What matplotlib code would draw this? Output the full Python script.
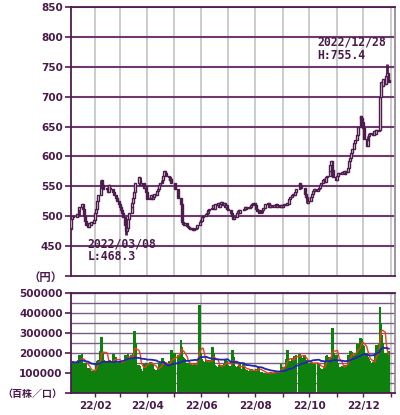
import numpy as np
import pandas as pd
import matplotlib
matplotlib.use("Agg")
import matplotlib.pyplot as plt
from matplotlib.ticker import FixedLocator

# ---------------- data ----------------
holidays = ['2022-01-10', '2022-02-11', '2022-02-23', '2022-03-21', '2022-04-29',
            '2022-05-03', '2022-05-04', '2022-05-05', '2022-07-18', '2022-08-11',
            '2022-09-19', '2022-09-23', '2022-10-10', '2022-11-03', '2022-11-23']

close_jan = [480, 495, 500, 498, 503, 500, 510, 515, 520, 512, 500, 492, 485, 482, 488, 485, 490, 488, 493]
close_feb = [505, 512, 525, 535, 548, 560, 552, 545, 548, 540, 552, 548, 545, 540, 536, 530, 525, 520]
close_mar = [515, 510, 505, 498, 485, 475, 480, 495, 505, 515, 522, 530, 540, 555, 565, 560, 552, 555, 548, 550, 540, 535]
close_apr = [528, 530, 535, 528, 532, 538, 535, 542, 545, 552, 556, 560, 568, 575, 572, 568, 565, 560, 562, 555]
close_may = [545, 530, 520, 490, 487, 485, 488, 484, 482, 480, 478, 481, 477, 479, 478, 480, 485, 490, 494]
close_jun = [492, 498, 500, 503, 505, 508, 510, 512, 514, 518, 512, 520, 518, 522, 516, 520, 524, 518, 522, 515, 518, 512]
close_jul = [510, 506, 505, 500, 495, 498, 505, 508, 510, 506, 510, 512, 515, 512, 516, 513, 515, 518, 520, 522]
close_aug = [518, 512, 508, 510, 506, 508, 510, 514, 520, 522, 518, 516, 518, 515, 518, 517, 520, 516, 518, 515, 518, 516]
close_sep = [518, 520, 518, 522, 520, 528, 532, 535, 538, 535, 540, 545, 555, 552, 548, 538, 532, 528, 522, 525]
close_oct = [532, 538, 542, 545, 543, 546, 548, 552, 555, 560, 562, 558, 565, 568, 575, 585, 592, 578, 565, 560]
close_nov = [568, 572, 570, 574, 572, 575, 571, 574, 580, 592, 598, 605, 612, 622, 628, 636, 650, 668, 665, 658]
close_dec = [648, 630, 618, 628, 635, 638, 640, 636, 642, 638, 645, 642, 645, 700, 725, 718, 730, 722, 735, 740, 728, 725]
first_open = 478

vol_jan = [155, 150, 160, 148, 150, 158, 165, 190, 195, 150, 145, 152, 148, 125, 120, 112, 108, 110, 115]
vol_feb = [112, 150, 160, 165, 210, 280, 200, 165, 155, 160, 150, 165, 155, 150, 195, 180, 150, 160]
vol_mar = [155, 150, 145, 160, 190, 185, 160, 195, 175, 190, 170, 200, 310, 250, 140, 135, 120, 110, 130, 145, 140, 150]
vol_apr = [150, 155, 145, 150, 140, 120, 115, 110, 125, 130, 150, 175, 160, 140, 135, 145, 140, 160, 150, 215]
vol_may = [200, 190, 265, 230, 180, 175, 170, 150, 145, 140, 150, 145, 140, 150, 145, 130, 150, 440, 200]
vol_jun = [170, 160, 150, 155, 165, 160, 150, 165, 160, 230, 200, 140, 135, 130, 140, 135, 130, 138, 145, 170, 160, 140]
vol_jul = [140, 135, 130, 215, 180, 135, 130, 125, 135, 145, 120, 145, 118, 112, 115, 110, 115, 112, 118, 110]
vol_aug = [112, 118, 110, 125, 130, 105, 100, 98, 102, 95, 100, 98, 105, 100, 102, 98, 105, 110, 100, 108, 145, 120]
vol_sep = [120, 130, 170, 215, 160, 150, 160, 175, 170, 185, 180, 190, 195, 185, 175, 190, 160, 165, 150, 145]
vol_oct = [150, 155, 145, 150, 148, 152, 140, 125, 120, 118, 130, 160, 185, 190, 180, 175, 160, 325, 200, 190]
vol_nov = [190, 150, 130, 125, 135, 128, 132, 140, 190, 180, 165, 210, 205, 190, 200, 220, 245, 275, 270, 240]
vol_dec = [235, 220, 200, 180, 170, 160, 150, 145, 155, 165, 200, 240, 250, 430, 350, 290, 250, 200, 185, 180, 190, 210]

price_ticks = [850, 800, 750, 700, 650, 600, 550, 500, 450]
vol_ticks = [500000, 400000, 300000, 200000, 100000]
month_labels = ['22/02', '22/04', '22/06', '22/08', '22/10', '22/12']
high_date, high_value = '2022-12-28', 755.4
low_date, low_value = '2022-03-08', 468.3

# ---------------- prep ----------------
closes = np.array(close_jan + close_feb + close_mar + close_apr + close_may + close_jun +
                  close_jul + close_aug + close_sep + close_oct + close_nov + close_dec, float)
vols = np.array(vol_jan + vol_feb + vol_mar + vol_apr + vol_may + vol_jun +
                vol_jul + vol_aug + vol_sep + vol_oct + vol_nov + vol_dec, float) * 1000

dates = pd.bdate_range('2022-01-04', '2022-12-30')
dates = dates[~dates.isin(pd.to_datetime(holidays))]
origin = pd.Timestamp('2022-01-01')
x = np.asarray((dates - origin).days, float)

opens = np.concatenate([[first_open], closes[:-1]])
highs = np.maximum(opens, closes)
lows = np.minimum(opens, closes)
hi_i = int(np.where(dates == pd.Timestamp(high_date))[0][0])
lo_i = int(np.where(dates == pd.Timestamp(low_date))[0][0])
highs[hi_i] = high_value
lows[lo_i] = low_value

ma5 = pd.Series(vols).rolling(5, min_periods=1).mean().values
ma25 = pd.Series(vols).rolling(25, min_periods=1).mean().values

month_starts = pd.date_range('2022-02-01', '2023-01-01', freq='MS')
mx = np.asarray((month_starts - origin).days, float)
label_x = mx[0:12:2]

# ---------------- style ----------------
PURP = '#4e1c4e'
GRID_H = '#6e3a6e'
GRID_V = '#cccccc'
TXT = '#4a1a4a'
XMIN, XMAX = 3.5, 370.0

fig = plt.figure(figsize=(4.0, 4.15), dpi=100)
ax1 = fig.add_axes([71 / 400, 1 - 276 / 415, 324 / 400, 269 / 415])
ax2 = fig.add_axes([71 / 400, 1 - 393 / 415, 324 / 400, 100 / 415])

# price panel
for m in mx:
    ax1.axvline(m, color=GRID_V, lw=1.4, zorder=0)
for p in price_ticks:
    ax1.axhline(p, color=GRID_H, lw=1.5, zorder=1)

up = closes >= opens
ax1.vlines(x, lows, highs, color=PURP, lw=2.0, zorder=3)
ax1.bar(x[~up], (closes - opens)[~up], bottom=opens[~up], width=2.2,
        color=PURP, edgecolor=PURP, lw=1.0, zorder=4)
ax1.bar(x[up], (closes - opens)[up], bottom=opens[up], width=2.2,
        color='white', edgecolor=PURP, lw=1.0, zorder=4)

ax1.set_xlim(XMIN, XMAX)
ax1.set_ylim(400, 850)
ax1.set_xticks([])
ax1.set_yticks([400] + price_ticks)
ax1.set_yticklabels(['（円）'] + [str(v) for v in price_ticks])
ax1.tick_params(axis='y', length=4, width=1.2, color=PURP, pad=2, labelcolor=TXT)
for i, lab in enumerate(ax1.get_yticklabels()):
    lab.set_fontweight('bold')
    if i == 0:
        lab.set_fontfamily(['Noto Sans CJK JP', 'DejaVu Sans'])
        lab.set_fontsize(8.2)
    else:
        lab.set_fontfamily('DejaVu Sans')
        lab.set_fontsize(7.5)
for s in ax1.spines.values():
    s.set_color(PURP)
    s.set_linewidth(1.3)
ax1.spines['right'].set_color('#9a8a9a')

ax1.annotate(f'{high_date.replace("-", "/")}\nH:{high_value}',
             xy=(x[hi_i], high_value), xytext=(-50, 20), textcoords='offset points',
             ha='left', va='top', family='DejaVu Sans Mono', fontweight='bold',
             fontsize=8.3, color=TXT, linespacing=1.0, zorder=6)
ax1.annotate(f'{low_date.replace("-", "/")}\nL:{low_value}',
             xy=(x[lo_i], low_value), xytext=(-28, -1.5), textcoords='offset points',
             ha='left', va='top', family='DejaVu Sans Mono', fontweight='bold',
             fontsize=8.3, color=TXT, linespacing=1.0, zorder=6)

# volume panel
for m in mx:
    ax2.axvline(m, color=GRID_V, lw=1.4, zorder=0)
for v in np.arange(50000, 500001, 50000):
    ax2.axhline(v, color='#7a5a86', lw=1.0, zorder=1)
ax2.bar(x, vols, width=3.2, color='#0d800d', lw=0, zorder=2)
ax2.plot(x, ma5, color='#e8401a', lw=1.0, zorder=3)
ax2.plot(x, ma25, color='#2424b0', lw=1.3, zorder=4)

ax2.set_xlim(XMIN, XMAX)
ax2.set_ylim(0, 500000)
ax2.set_yticks([0] + vol_ticks)
ax2.set_yticklabels(['（百株／口）'] + [str(v) for v in vol_ticks])
ax2.tick_params(axis='y', length=4, width=1.2, color=PURP, pad=2, labelcolor=TXT)
for i, lab in enumerate(ax2.get_yticklabels()):
    lab.set_fontweight('bold')
    if i == 0:
        lab.set_fontfamily(['Noto Sans CJK JP', 'DejaVu Sans'])
        lab.set_fontsize(7.2)
    else:
        lab.set_fontfamily('DejaVu Sans')
        lab.set_fontsize(7.5)
ax2.set_xticks(label_x)
ax2.set_xticklabels(month_labels, fontsize=7.5, fontweight='bold', color=TXT)
ax2.xaxis.set_minor_locator(FixedLocator(mx))
ax2.tick_params(axis='x', which='both', length=3, width=1.0, color=PURP, pad=3)
for s in ax2.spines.values():
    s.set_color(PURP)
    s.set_linewidth(1.3)
ax2.spines['right'].set_color('#9a8a9a')

fig.savefig('out.png', dpi=100)
